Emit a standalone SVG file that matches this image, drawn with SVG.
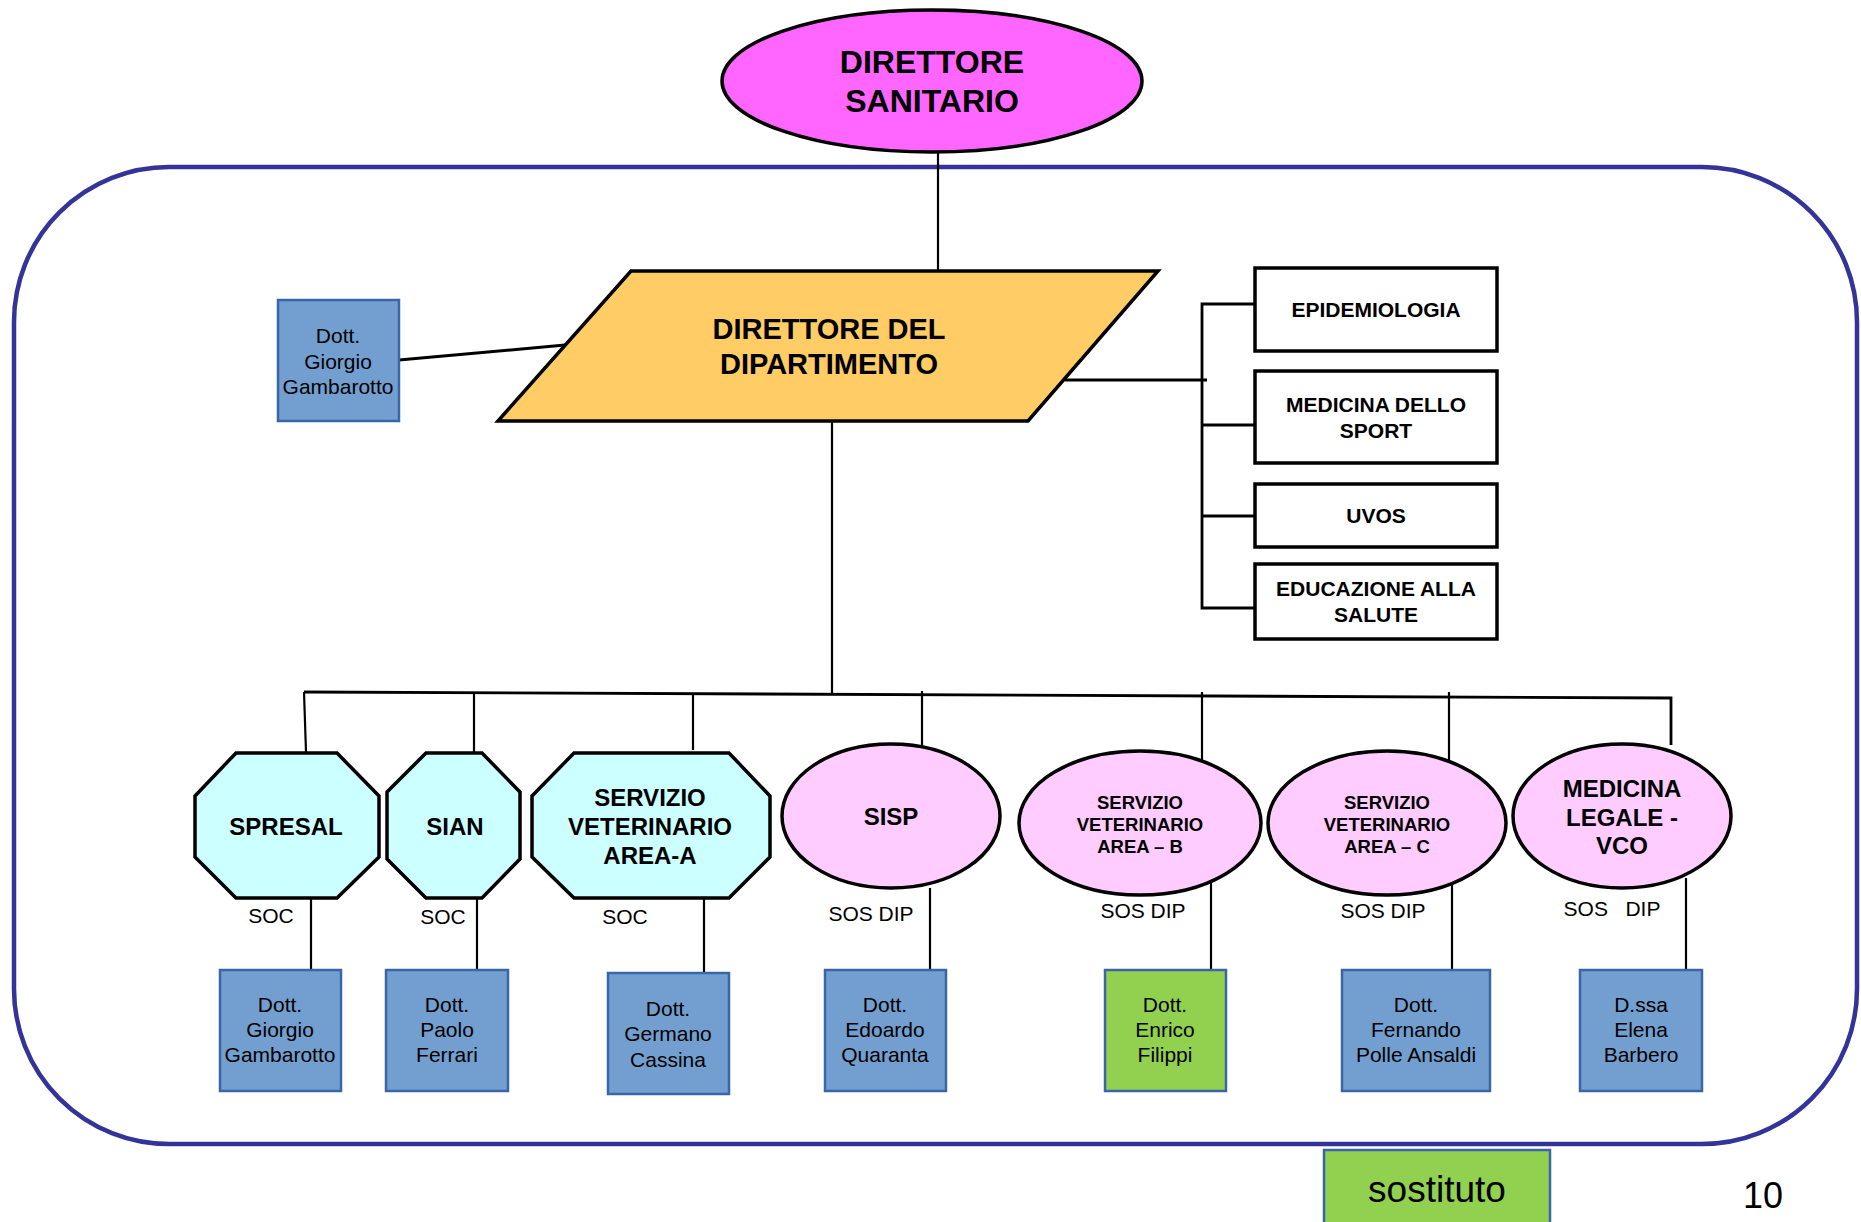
<svg xmlns="http://www.w3.org/2000/svg" width="1861" height="1222" viewBox="0 0 1861 1222">
<style>
text{font-family:"Liberation Sans",Arial,sans-serif;text-anchor:middle;fill:#000}
.b{font-weight:bold}
.sh{stroke:#000;stroke-width:3.5}
.ln{stroke:#000;stroke-width:2.2;fill:none}
.pb{fill:#729FCF;stroke:#3A66A8;stroke-width:2.5}
.gb{fill:#92D050;stroke:#3A66A8;stroke-width:2.5}
.wb{fill:#fff;stroke:#000;stroke-width:3.5}
.oct{fill:#CCFFFF;stroke:#000;stroke-width:3.5}
.el{fill:#FFCCFF;stroke:#000;stroke-width:3.5}
.p{font-size:21px}
.lab{font-size:21px}
</style>
<rect width="1861" height="1222" fill="#fff"/>
<rect id="container" x="14" y="167" width="1843" height="977" rx="155" ry="155" fill="none" stroke="#333399" stroke-width="4.5"/>

<g id="connectors">
<line class="ln" x1="938" y1="152" x2="938" y2="271"/>
<line class="ln" x1="399" y1="360" x2="565" y2="345" style="stroke-width:3"/>
<line class="ln" x1="1065" y1="380" x2="1207" y2="380" style="stroke-width:3"/>
<polyline class="ln" points="1255,304 1202,304 1202,608 1255,608" style="stroke-width:2.8"/>
<line class="ln" x1="1202" y1="425" x2="1255" y2="425" style="stroke-width:2.8"/>
<line class="ln" x1="1202" y1="516" x2="1255" y2="516" style="stroke-width:2.8"/>
<line class="ln" x1="832" y1="419" x2="832" y2="693"/>
<polyline class="ln" points="304,692 1671,698 1671,745" style="stroke-width:2.8"/>
<line class="ln" x1="304" y1="692" x2="306" y2="752"/>
<line class="ln" x1="474" y1="692" x2="474" y2="752"/>
<line class="ln" x1="693" y1="693" x2="693" y2="750"/>
<line class="ln" x1="922" y1="691" x2="922" y2="745"/>
<line class="ln" x1="1202" y1="692" x2="1202" y2="760"/>
<line class="ln" x1="1449" y1="692" x2="1449" y2="760"/>
<line class="ln" x1="311" y1="898" x2="311" y2="970"/>
<line class="ln" x1="477" y1="898" x2="477" y2="970"/>
<line class="ln" x1="704" y1="898" x2="704" y2="973"/>
<line class="ln" x1="930" y1="888" x2="930" y2="970"/>
<line class="ln" x1="1211" y1="878" x2="1211" y2="970"/>
<line class="ln" x1="1452" y1="878" x2="1452" y2="970"/>
<line class="ln" x1="1686" y1="878" x2="1686" y2="970"/>
</g>

<g id="direttore-sanitario">
<ellipse cx="932" cy="81" rx="210" ry="71" fill="#FF66FF" class="sh"/>
<text class="b" x="932" y="73" font-size="32">DIRETTORE</text>
<text class="b" x="932" y="112" font-size="32">SANITARIO</text>
</g>

<g id="direttore-dipartimento">
<polygon points="631,271 1158,271 1028,421 498,421" fill="#FFCC66" class="sh"/>
<text class="b" x="829" y="339" font-size="29">DIRETTORE DEL</text>
<text class="b" x="829" y="374" font-size="29">DIPARTIMENTO</text>
</g>

<g id="dott-gambarotto-dip">
<rect class="pb" x="278" y="300" width="121" height="121"/>
<text class="p" x="338" y="343">Dott.</text>
<text class="p" x="338" y="369">Giorgio</text>
<text class="p" x="338" y="394">Gambarotto</text>
</g>

<g id="epidemiologia">
<rect class="wb" x="1255" y="268" width="242" height="83"/>
<text class="b" x="1376" y="317" font-size="21">EPIDEMIOLOGIA</text>
</g>
<g id="medicina-sport">
<rect class="wb" x="1255" y="371" width="242" height="92"/>
<text class="b" x="1376" y="412" font-size="21">MEDICINA DELLO</text>
<text class="b" x="1376" y="438" font-size="21">SPORT</text>
</g>
<g id="uvos">
<rect class="wb" x="1255" y="484" width="242" height="63"/>
<text class="b" x="1376" y="523" font-size="21">UVOS</text>
</g>
<g id="educazione">
<rect class="wb" x="1255" y="564" width="242" height="75"/>
<text class="b" x="1376" y="596" font-size="21">EDUCAZIONE ALLA</text>
<text class="b" x="1376" y="622" font-size="21">SALUTE</text>
</g>

<g id="spresal">
<polygon class="oct" points="236,753 337,753 379,796 379,857 337,898 236,898 195,857 195,796"/>
<text class="b" x="286" y="835" font-size="24">SPRESAL</text>
<text class="lab" x="271" y="923">SOC</text>
</g>
<g id="sian">
<polygon class="oct" points="426,753 482,753 520,792 520,859 482,898 426,898 387,859 387,792"/>
<text class="b" x="455" y="835" font-size="24">SIAN</text>
<text class="lab" x="443" y="924">SOC</text>
</g>
<g id="servizio-vet-a">
<polygon class="oct" points="574,753 729,753 770,796 770,857 729,898 574,898 532,857 532,796"/>
<text class="b" x="650" y="806" font-size="24">SERVIZIO</text>
<text class="b" x="650" y="835" font-size="24">VETERINARIO</text>
<text class="b" x="650" y="864" font-size="24">AREA-A</text>
<text class="lab" x="625" y="924">SOC</text>
</g>
<g id="sisp">
<ellipse class="el" cx="891" cy="816" rx="109" ry="72"/>
<text class="b" x="891" y="825" font-size="24">SISP</text>
<text class="lab" x="871" y="921">SOS DIP</text>
</g>
<g id="servizio-vet-b">
<ellipse class="el" cx="1140" cy="823" rx="121" ry="72"/>
<text class="b" x="1140" y="809" font-size="18.5">SERVIZIO</text>
<text class="b" x="1140" y="831" font-size="18.5">VETERINARIO</text>
<text class="b" x="1140" y="853" font-size="18.5">AREA – B</text>
<text class="lab" x="1143" y="918">SOS DIP</text>
</g>
<g id="servizio-vet-c">
<ellipse class="el" cx="1387" cy="823" rx="119" ry="72"/>
<text class="b" x="1387" y="809" font-size="18.5">SERVIZIO</text>
<text class="b" x="1387" y="831" font-size="18.5">VETERINARIO</text>
<text class="b" x="1387" y="853" font-size="18.5">AREA – C</text>
<text class="lab" x="1383" y="918">SOS DIP</text>
</g>
<g id="medicina-legale">
<ellipse class="el" cx="1622" cy="816" rx="109" ry="72"/>
<text class="b" x="1622" y="797" font-size="24">MEDICINA</text>
<text class="b" x="1622" y="826" font-size="24">LEGALE -</text>
<text class="b" x="1622" y="854" font-size="24">VCO</text>
<text class="lab" x="1612" y="916" xml:space="preserve">SOS   DIP</text>
</g>

<g id="p-gambarotto">
<rect class="pb" x="220" y="970" width="121" height="121"/>
<text class="p" x="280" y="1012">Dott.</text>
<text class="p" x="280" y="1037">Giorgio</text>
<text class="p" x="280" y="1062">Gambarotto</text>
</g>
<g id="p-ferrari">
<rect class="pb" x="386" y="970" width="122" height="121"/>
<text class="p" x="447" y="1012">Dott.</text>
<text class="p" x="447" y="1037">Paolo</text>
<text class="p" x="447" y="1062">Ferrari</text>
</g>
<g id="p-cassina">
<rect class="pb" x="608" y="973" width="121" height="121"/>
<text class="p" x="668" y="1016">Dott.</text>
<text class="p" x="668" y="1041">Germano</text>
<text class="p" x="668" y="1067">Cassina</text>
</g>
<g id="p-quaranta">
<rect class="pb" x="825" y="970" width="121" height="121"/>
<text class="p" x="885" y="1012">Dott.</text>
<text class="p" x="885" y="1037">Edoardo</text>
<text class="p" x="885" y="1062">Quaranta</text>
</g>
<g id="p-filippi">
<rect class="gb" x="1105" y="970" width="121" height="121"/>
<text class="p" x="1165" y="1012">Dott.</text>
<text class="p" x="1165" y="1037">Enrico</text>
<text class="p" x="1165" y="1062">Filippi</text>
</g>
<g id="p-polle">
<rect class="pb" x="1342" y="970" width="148" height="121"/>
<text class="p" x="1416" y="1012">Dott.</text>
<text class="p" x="1416" y="1037">Fernando</text>
<text class="p" x="1416" y="1062">Polle Ansaldi</text>
</g>
<g id="p-barbero">
<rect class="pb" x="1580" y="970" width="122" height="121"/>
<text class="p" x="1641" y="1012">D.ssa</text>
<text class="p" x="1641" y="1037">Elena</text>
<text class="p" x="1641" y="1062">Barbero</text>
</g>

<g id="legenda-sostituto">
<rect class="gb" x="1324" y="1150" width="226" height="80"/>
<text x="1437" y="1202" font-size="37">sostituto</text>
</g>
<text id="page-number" x="1763" y="1208" font-size="36">10</text>
</svg>
